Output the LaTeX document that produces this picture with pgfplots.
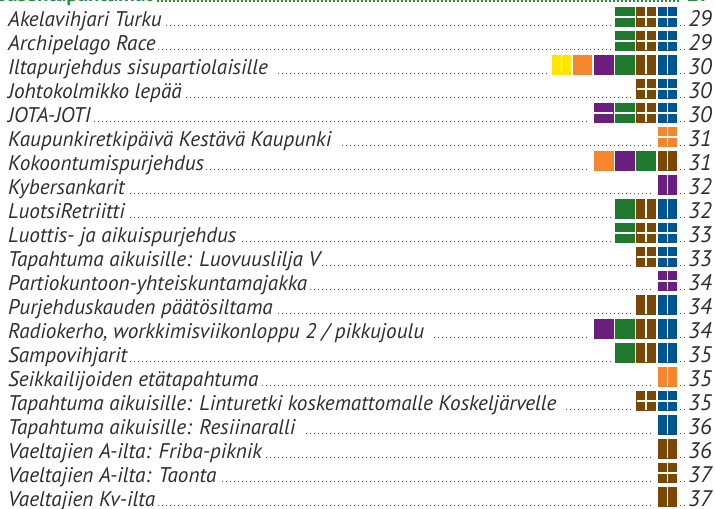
\documentclass[border=0pt]{standalone}
\usepackage{pgfplots}
\pgfplotsset{compat=1.18}
\usepackage{fontspec}
\setmainfont{PT Sans}
\definecolor{cyel}{HTML}{FFE500}
\definecolor{cora}{HTML}{F5862E}
\definecolor{cpur}{HTML}{6A1E7E}
\definecolor{cgre}{HTML}{1F7A30}
\definecolor{cbro}{HTML}{7B4706}
\definecolor{cblu}{HTML}{005590}
\definecolor{txt}{HTML}{2E2E2E}
\definecolor{dotc}{HTML}{555555}
\definecolor{hgre}{HTML}{25913A}
\newcommand\lead{\leaders\hbox to 4pt{\hss\textcolor{dotc}{\rule{1.3pt}{1.3pt}}\hss}\hfill}
\newcommand\glead{\leaders\hbox to 4pt{\hss\textcolor{hgre}{\rule{1.6pt}{1.6pt}}\hss}\hfill}
\newcommand\txtfont{\fontsize{21.2}{21.2}\selectfont\itshape}
\newcommand\numfont{\fontsize{22.5}{22.5}\selectfont\itshape}
\newcommand\row[4]{%
  \node[anchor=base west, inner sep=0pt, text=txt] at (axis cs:8,{-#1-0.396}) {\hbox to #2pt{\txtfont #3\lead}};
  \node[anchor=base east, inner sep=0pt, text=txt] at (axis cs:712,{-#1-0.396}) {\hbox to 33pt{\lead\numfont #4}};
}
\begin{document}
\begin{tikzpicture}
\begin{axis}[name=ax, hide axis, x=1pt, y=24pt, xmin=0, xmax=715, ymin=-21.471, ymax=-0.304, clip=false]
% yellow
\addplot[only marks, mark=square*, mark size=9.35pt, mark options={solid, fill=cyel, draw=cyel, line width=0pt}] coordinates {(561.4,-3)};
% orange
\addplot[only marks, mark=square*, mark size=9.35pt, mark options={solid, fill=cora, draw=cora, line width=0pt}] coordinates {(582.6,-3) (667.4,-6) (603.8,-7) (667.4,-16)};
% purple
\addplot[only marks, mark=square*, mark size=9.35pt, mark options={solid, fill=cpur, draw=cpur, line width=0pt}] coordinates {(603.8,-3) (603.8,-5) (625.0,-7) (667.4,-8) (667.4,-12) (603.8,-14)};
% green
\addplot[only marks, mark=square*, mark size=9.35pt, mark options={solid, fill=cgre, draw=cgre, line width=0pt}] coordinates {(625,-1) (625,-2) (625,-3) (625,-5) (646.2,-7) (625,-9) (625,-10) (625,-14) (625,-15)};
% brown
\addplot[only marks, mark=square*, mark size=9.35pt, mark options={solid, fill=cbro, draw=cbro, line width=0pt}] coordinates {(646.2,-1) (646.2,-2) (646.2,-3) (646.2,-4) (646.2,-5) (667.4,-7) (646.2,-9) (646.2,-10) (646.2,-11) (646.2,-13) (646.2,-14) (646.2,-15) (646.2,-17) (667.4,-19) (667.4,-20) (667.4,-21)};
% blue
\addplot[only marks, mark=square*, mark size=9.35pt, mark options={solid, fill=cblu, draw=cblu, line width=0pt}] coordinates {(667.4,-1) (667.4,-2) (667.4,-3) (667.4,-4) (667.4,-5) (667.4,-9) (667.4,-10) (667.4,-11) (667.4,-13) (667.4,-14) (667.4,-15) (667.4,-17) (667.4,-18)};
% splits
\addplot[only marks, mark=-, mark size=9.6pt, mark options={solid, draw=white, line width=1.8pt}] coordinates {(625,-1) (625,-2) (603.8,-5) (625,-5) (625,-10)};
\addplot[only marks, mark=|, mark size=9.6pt, mark options={solid, draw=white, line width=1.8pt}] coordinates {(561.4,-3) (646.2,-3) (667.4,-3) (667.4,-7) (667.4,-8) (646.2,-9) (667.4,-9) (646.2,-13) (667.4,-13) (646.2,-14) (667.4,-14) (646.2,-15) (667.4,-15) (667.4,-16) (667.4,-18) (667.4,-19) (667.4,-21)};
\addplot[only marks, mark=+, mark size=9.6pt, mark options={solid, draw=white, line width=1.8pt}] coordinates {(646.2,-1) (667.4,-1) (646.2,-2) (667.4,-2) (646.2,-4) (667.4,-4) (646.2,-5) (667.4,-5) (667.4,-6) (646.2,-10) (667.4,-10) (646.2,-11) (667.4,-11) (667.4,-12) (646.2,-17) (667.4,-17) (667.4,-20)};
% header (cut off at top)
\node[anchor=base west, inner sep=0pt, text=hgre] at (axis cs:0,-0.38) {\hbox to 680pt{\fontsize{21}{21}\selectfont\bfseries Jäsentapahtumat\glead}};
\node[anchor=base east, inner sep=0pt, text=hgre] at (axis cs:712,-0.38) {\numfont\bfseries\upshape 27};
% rows
\row{1}{604.6}{Akelavihjari Turku}{29}
\row{2}{604.6}{Archipelago Race}{29}
\row{3}{541}{Iltapurjehdus sisupartiolaisille\ }{30}
\row{4}{625.8}{Johtokolmikko lepää}{30}
\row{5}{583.4}{JOTA-JOTI}{30}
\row{6}{647}{Kaupunkiretkipäivä Kestävä Kaupunki\ }{31}
\row{7}{583.4}{Kokoontumispurjehdus}{31}
\row{8}{647}{Kybersankarit}{32}
\row{9}{604.6}{LuotsiRetriitti}{32}
\row{10}{604.6}{Luottis- ja aikuispurjehdus}{33}
\row{11}{625.8}{Tapahtuma aikuisille: Luovuuslilja V}{33}
\row{12}{647}{Partiokuntoon-yhteiskuntamajakka}{34}
\row{13}{625.8}{Purjehduskauden päätösiltama}{34}
\row{14}{583.4}{Radiokerho, workkimisviikonloppu 2 / pikkujoulu\ }{34}
\row{15}{604.6}{Sampovihjarit}{35}
\row{16}{647}{Seikkailijoiden etätapahtuma}{35}
\row{17}{625.8}{Tapahtuma aikuisille: Linturetki koskemattomalle Koskeljärvelle\ }{35}
\row{18}{647}{Tapahtuma aikuisille: Resiinaralli\ }{36}
\row{19}{647}{Vaeltajien A-ilta: Friba-piknik}{36}
\row{20}{647}{Vaeltajien A-ilta: Taonta}{37}
\row{21}{647}{Vaeltajien Kv-ilta}{37}
\end{axis}
\pgfresetboundingbox
\path[use as bounding box] (ax.south west) rectangle (ax.north east);
\end{tikzpicture}
\end{document}
